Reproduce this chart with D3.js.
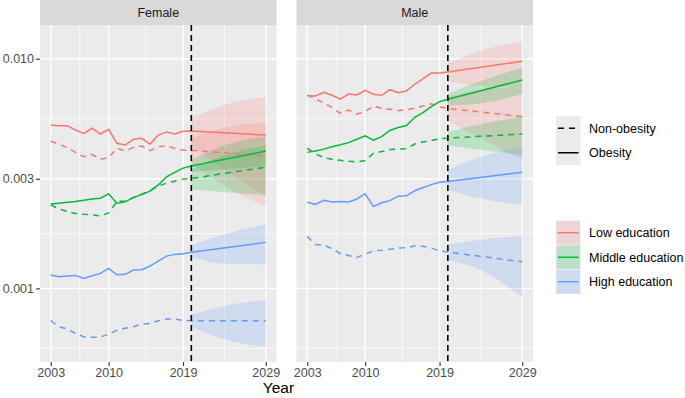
<!DOCTYPE html>
<html>
<head>
<meta charset="utf-8">
<script src="https://cdn.jsdelivr.net/npm/d3@7"></script>
<style>
  body { margin: 0; background: #fff; }
  text { font-family: "Liberation Sans", Arial, sans-serif; }
</style>
</head>
<body>
<svg id="chart" width="685" height="398"></svg>
<script>
// Incidence by education and obesity status, observed 2003-2019 and projected to 2029.

// x values: observed years, then the projection start and end
const years = [2003, 2004, 2005, 2006, 2007, 2008, 2009, 2010, 2011, 2012, 2013, 2014, 2015, 2016, 2017, 2018, 2019, 2020, 2029];
const bandYears = [2020, 2024, 2029];
const xTicks = [2003, 2010, 2019, 2029];
const yTicks = [0.001, 0.003, 0.010];
const panels = ["Female", "Male"];
const educations = ["Low education", "Middle education", "High education"];
const statuses = ["Non-obesity", "Obesity"];

// Female
const fLowOb    = [0.00514, 0.00511, 0.00511, 0.00489, 0.00473, 0.00498, 0.00470, 0.00493, 0.00428, 0.00421, 0.00446, 0.00450, 0.00425, 0.00465, 0.00480, 0.00470, 0.00483, 0.00485, 0.00465];
const fLowNon   = [0.00438, 0.00424, 0.00410, 0.00391, 0.00374, 0.00383, 0.00365, 0.00371, 0.00407, 0.00396, 0.00411, 0.00417, 0.00398, 0.00414, 0.00417, 0.00407, 0.00400, 0.00399, 0.00377];
const fMidOb    = [0.00233, 0.00235, 0.00237, 0.00239, 0.00242, 0.00245, 0.00247, 0.00258, 0.00235, 0.00238, 0.00249, 0.00256, 0.00265, 0.00282, 0.00306, 0.00320, 0.00334, 0.00341, 0.00396];
const fMidNon   = [0.00231, 0.00222, 0.00216, 0.00212, 0.00210, 0.00209, 0.00207, 0.00213, 0.00239, 0.00240, 0.00248, 0.00257, 0.00266, 0.00279, 0.00287, 0.00293, 0.00299, 0.00301, 0.00337];
const fHighOb   = [0.001143, 0.001123, 0.001131, 0.001139, 0.001105, 0.001135, 0.001162, 0.001222, 0.001146, 0.001151, 0.001202, 0.001205, 0.001251, 0.001315, 0.001382, 0.001406, 0.001415, 0.001435, 0.001586];
const fHighNon  = [0.000723, 0.000681, 0.000665, 0.000637, 0.000615, 0.000612, 0.000614, 0.000632, 0.000658, 0.000670, 0.000681, 0.000699, 0.000704, 0.000723, 0.000735, 0.000735, 0.000725, 0.000723, 0.000723];

// Male
const mLowOb    = [0.00690, 0.00688, 0.00714, 0.00693, 0.00666, 0.00702, 0.00695, 0.00729, 0.00700, 0.00693, 0.00733, 0.00711, 0.00724, 0.00774, 0.00818, 0.00866, 0.00866, 0.00875, 0.00974];
const mLowNon   = [0.00695, 0.00668, 0.00642, 0.00613, 0.00578, 0.00598, 0.00574, 0.00588, 0.00622, 0.00608, 0.00602, 0.00595, 0.00598, 0.00610, 0.00622, 0.00637, 0.00616, 0.00608, 0.00559];
const mMidOb    = [0.00391, 0.00396, 0.00404, 0.00414, 0.00422, 0.00431, 0.00446, 0.00462, 0.00442, 0.00458, 0.00487, 0.00502, 0.00512, 0.00556, 0.00582, 0.00618, 0.00650, 0.00666, 0.00808];
const mMidNon   = [0.00407, 0.00385, 0.00371, 0.00365, 0.00361, 0.00358, 0.00355, 0.00360, 0.00387, 0.00394, 0.00402, 0.00404, 0.00406, 0.00425, 0.00434, 0.00440, 0.00448, 0.00451, 0.00470];
const mHighOb   = [0.00237, 0.00232, 0.00242, 0.00238, 0.00239, 0.00238, 0.00245, 0.00258, 0.00227, 0.00236, 0.00241, 0.00252, 0.00253, 0.00266, 0.00275, 0.00283, 0.00290, 0.00292, 0.00320];
const mHighNon  = [0.001684, 0.001554, 0.001543, 0.001490, 0.001418, 0.001390, 0.001362, 0.001411, 0.001456, 0.001465, 0.001479, 0.001498, 0.001502, 0.001528, 0.001524, 0.001498, 0.001456, 0.001439, 0.001305];

// projection intervals [lower, upper] at bandYears
const fLowObBand   = [[0.00420, 0.00550], [0.00330, 0.00630], [0.00251, 0.00679]];
const fLowNonBand  = [[0.00350, 0.00450], [0.00280, 0.00500], [0.00228, 0.00526]];
const fMidObBand   = [[0.00320, 0.00362], [0.00330, 0.00420], [0.00340, 0.00460]];
const fMidNonBand  = [[0.00270, 0.00330], [0.00262, 0.00380], [0.00255, 0.00419]];
const fHighObBand  = [[0.00137, 0.00154], [0.00128, 0.00172], [0.001272, 0.00190]];
const fHighNonBand = [[0.000681, 0.000765], [0.000600, 0.000840], [0.000556, 0.000889]];
const mLowObBand   = [[0.00795, 0.00955], [0.00760, 0.01080], [0.00754, 0.01194]];
const mLowNonBand  = [[0.00540, 0.00680], [0.00450, 0.00730], [0.00362, 0.00756]];
const mMidObBand   = [[0.00626, 0.00706], [0.00640, 0.00800], [0.00702, 0.00914]];
const mMidNonBand  = [[0.00420, 0.00480], [0.00400, 0.00520], [0.00381, 0.00559]];
const mHighObBand  = [[0.00268, 0.00327], [0.00246, 0.00375], [0.00230, 0.00410]];
const mHighNonBand = [[0.00133, 0.001554], [0.00120, 0.00163], [0.000916, 0.001694]];

const series = [
    { panel: "Female", edu: "Low education",    status: "Obesity",     values: fLowOb,   band: fLowObBand },
    { panel: "Female", edu: "Low education",    status: "Non-obesity", values: fLowNon,  band: fLowNonBand },
    { panel: "Female", edu: "Middle education", status: "Obesity",     values: fMidOb,   band: fMidObBand },
    { panel: "Female", edu: "Middle education", status: "Non-obesity", values: fMidNon,  band: fMidNonBand },
    { panel: "Female", edu: "High education",   status: "Obesity",     values: fHighOb,  band: fHighObBand },
    { panel: "Female", edu: "High education",   status: "Non-obesity", values: fHighNon, band: fHighNonBand },
    { panel: "Male",   edu: "Low education",    status: "Obesity",     values: mLowOb,   band: mLowObBand },
    { panel: "Male",   edu: "Low education",    status: "Non-obesity", values: mLowNon,  band: mLowNonBand },
    { panel: "Male",   edu: "Middle education", status: "Obesity",     values: mMidOb,   band: mMidObBand },
    { panel: "Male",   edu: "Middle education", status: "Non-obesity", values: mMidNon,  band: mMidNonBand },
    { panel: "Male",   edu: "High education",   status: "Obesity",     values: mHighOb,  band: mHighObBand },
    { panel: "Male",   edu: "High education",   status: "Non-obesity", values: mHighNon, band: mHighNonBand }
];

const colour = d3.scaleOrdinal().domain(educations).range(["#F8766D", "#00BA38", "#619CFF"]);
const dash = d3.scaleOrdinal().domain(statuses).range(["6,5", null]);

// Layout
const PANEL_LEFT = [40, 296.5];
const PANEL_W = 236.5;
const PANEL_TOP = 25;
const PANEL_BOT = 362;
const STRIP_H = 25;
const VLINE_YEAR = 2020;

const svg = d3.select("#chart");
const y = d3.scaleLog().domain([0.000478, 0.01402]).range([PANEL_BOT, PANEL_TOP]);
const yMinor = [0.000548, 0.001732, 0.005477];

function fmt3 (d) { return d.toFixed(3); }

panels.forEach(function (name, p) {
    const left = PANEL_LEFT[p];
    const x = d3.scaleLinear().domain([2001.7, 2030.3]).range([left, left + PANEL_W]);
    const g = svg.append("g");

    // panel background and grid
    g.append("rect")
        .attr("x", left).attr("y", PANEL_TOP)
        .attr("width", PANEL_W).attr("height", PANEL_BOT - PANEL_TOP)
        .attr("fill", "#EBEBEB");
    yMinor.forEach(function (v) {
        g.append("line").attr("x1", left).attr("x2", left + PANEL_W)
            .attr("y1", y(v)).attr("y2", y(v))
            .attr("stroke", "#fff").attr("stroke-width", 0.7);
    });
    [2006.5, 2014.5, 2024].forEach(function (v) {
        g.append("line").attr("y1", PANEL_TOP).attr("y2", PANEL_BOT)
            .attr("x1", x(v)).attr("x2", x(v))
            .attr("stroke", "#fff").attr("stroke-width", 0.7);
    });
    yTicks.forEach(function (v) {
        g.append("line").attr("x1", left).attr("x2", left + PANEL_W)
            .attr("y1", y(v)).attr("y2", y(v))
            .attr("stroke", "#fff").attr("stroke-width", 1.4);
    });
    xTicks.forEach(function (v) {
        g.append("line").attr("y1", PANEL_TOP).attr("y2", PANEL_BOT)
            .attr("x1", x(v)).attr("x2", x(v))
            .attr("stroke", "#fff").attr("stroke-width", 1.4);
    });

    const rows = series.filter(function (s) { return s.panel === name; });

    // ribbons
    const area = d3.area()
        .x(function (d, i) { return x(bandYears[i]); })
        .y0(function (d) { return y(d[0]); })
        .y1(function (d) { return y(d[1]); })
        .curve(d3.curveMonotoneX);
    rows.forEach(function (s) {
        g.append("path")
            .attr("d", area(s.band))
            .attr("fill", colour(s.edu))
            .attr("fill-opacity", 0.2);
    });

    // lines
    const line = d3.line()
        .x(function (d, i) { return x(years[i]); })
        .y(function (d) { return y(d); });
    rows.forEach(function (s) {
        g.append("path")
            .attr("d", line(s.values))
            .attr("fill", "none")
            .attr("stroke", colour(s.edu))
            .attr("stroke-width", 1.5)
            .attr("stroke-dasharray", dash(s.status));
    });

    // projection start
    g.append("line")
        .attr("x1", x(VLINE_YEAR)).attr("x2", x(VLINE_YEAR))
        .attr("y1", PANEL_TOP).attr("y2", PANEL_BOT)
        .attr("stroke", "#000").attr("stroke-width", 1.6)
        .attr("stroke-dasharray", "6,4");

    // strip
    g.append("rect")
        .attr("x", left).attr("y", PANEL_TOP - STRIP_H)
        .attr("width", PANEL_W).attr("height", STRIP_H)
        .attr("fill", "#D9D9D9");
    g.append("text")
        .attr("x", left + PANEL_W / 2).attr("y", PANEL_TOP - STRIP_H / 2)
        .attr("dy", "0.35em")
        .attr("text-anchor", "middle")
        .attr("font-size", 12.5).attr("fill", "#1A1A1A")
        .text(name);

    // x axis
    const xAxis = g.append("g")
        .attr("transform", "translate(0," + PANEL_BOT + ")")
        .call(d3.axisBottom(x).tickValues(xTicks).tickFormat(d3.format("d")).tickSize(4).tickPadding(2));
    xAxis.select(".domain").remove();
    xAxis.selectAll(".tick line").attr("stroke", "#333").attr("stroke-width", 1.1);
    xAxis.selectAll(".tick text").attr("fill", "#4D4D4D").attr("font-size", 12.5)
        .attr("font-family", "Liberation Sans, Arial, sans-serif");

    if (p === 0) {
        const yAxis = g.append("g")
            .attr("transform", "translate(" + left + ",0)")
            .call(d3.axisLeft(y).tickValues(yTicks).tickFormat(fmt3).tickSize(4).tickPadding(2));
        yAxis.select(".domain").remove();
        yAxis.selectAll(".tick line").attr("stroke", "#333").attr("stroke-width", 1.1);
        yAxis.selectAll(".tick text").attr("fill", "#4D4D4D").attr("font-size", 12.5)
            .attr("font-family", "Liberation Sans, Arial, sans-serif");
    }
});

// x axis title
svg.append("text")
    .attr("x", 278.5).attr("y", 393)
    .attr("text-anchor", "middle")
    .attr("font-size", 15.5).attr("fill", "#000")
    .text("Year");

// Legends
const KEY_X = 556;
const KEY_W = 24.5;
const KEY_H = 24.5;
const LABEL_X = 589;

const lt = svg.append("g");
statuses.forEach(function (st, i) {
    const top = 116 + i * KEY_H;
    lt.append("rect").attr("x", KEY_X).attr("y", top)
        .attr("width", KEY_W).attr("height", KEY_H).attr("fill", "#EBEBEB");
    lt.append("line")
        .attr("x1", KEY_X + 2).attr("x2", KEY_X + KEY_W - 2)
        .attr("y1", top + KEY_H / 2).attr("y2", top + KEY_H / 2)
        .attr("stroke", "#000").attr("stroke-width", 1.5)
        .attr("stroke-dasharray", st === "Non-obesity" ? "6,5" : null);
    lt.append("text").attr("x", LABEL_X).attr("y", top + KEY_H / 2)
        .attr("dy", "0.35em").attr("font-size", 12.5).attr("fill", "#000")
        .text(st);
});

const fl = svg.append("g");
educations.forEach(function (ed, i) {
    const top = 220.5 + i * KEY_H;
    fl.append("rect").attr("x", KEY_X).attr("y", top)
        .attr("width", KEY_W).attr("height", KEY_H).attr("fill", "#EBEBEB");
    fl.append("rect").attr("x", KEY_X + 0.5).attr("y", top + 0.5)
        .attr("width", KEY_W - 1).attr("height", KEY_H - 1)
        .attr("fill", colour(ed)).attr("fill-opacity", 0.2);
    fl.append("line")
        .attr("x1", KEY_X + 2).attr("x2", KEY_X + KEY_W - 2)
        .attr("y1", top + KEY_H / 2).attr("y2", top + KEY_H / 2)
        .attr("stroke", colour(ed)).attr("stroke-width", 1.5);
    fl.append("text").attr("x", LABEL_X).attr("y", top + KEY_H / 2)
        .attr("dy", "0.35em").attr("font-size", 12.5).attr("fill", "#000")
        .text(ed);
});
</script>
</body>
</html>
